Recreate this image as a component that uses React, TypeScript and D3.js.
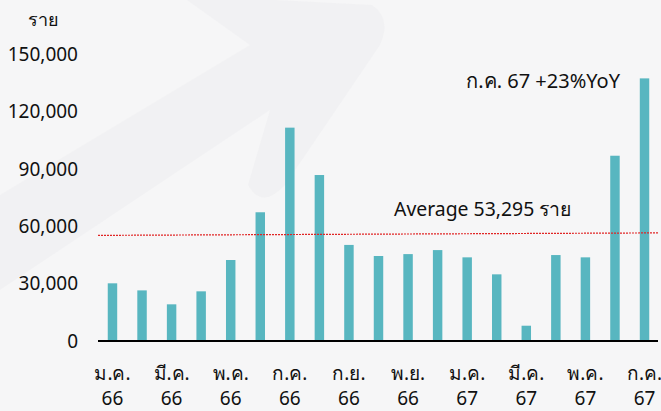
import * as d3 from "d3"
import { useEffect, useRef } from "react"

const BAR_COLOR = "#58b6c0"
const W = 661
const H = 411

// monthly counts (ราย), ม.ค. 66 – ก.ค. 67
const months = [
  "ม.ค. 66", "ก.พ. 66", "มี.ค. 66", "เม.ย. 66", "พ.ค. 66", "มิ.ย. 66", "ก.ค. 66",
  "ส.ค. 66", "ก.ย. 66", "ต.ค. 66", "พ.ย. 66", "ธ.ค. 66", "ม.ค. 67", "ก.พ. 67",
  "มี.ค. 67", "เม.ย. 67", "พ.ค. 67", "มิ.ย. 67", "ก.ค. 67",
]
const values = [
  30200, 26500, 19200, 26000, 42400, 67400, 111700, 86900, 50300, 44500,
  45500, 47600, 43800, 34900, 8000, 45000, 43800, 97000, 137500,
]
const yTicks = [0, 30000, 60000, 90000, 120000, 150000]
const averageLabel = "Average 53,295 ราย"
// the drawn average line rises slightly from left to right
const averageLine = [55300, 56600]
const annotation = "ก.ค. 67 +23%YoY"
const unitLabel = "ราย"

const FONT = "'Noto Sans', 'Open Sans', sans-serif"

export default function App() {
  const svgRef = useRef<SVGSVGElement | null>(null)

  useEffect(() => {
    if (!svgRef.current) return
    const svg = d3.select(svgRef.current)
    svg.selectAll("*").remove()

    // background with a faint arrow
    svg.append("rect").attr("width", W).attr("height", H).attr("fill", "#f6f6f7")
    svg
      .append("path")
      .attr("d", "M0,195 L250,45 L180,-5 L372,5 Q392,18 380,45 L285,185 Q262,210 248,185 L270,110 L0,290 Z")
      .attr("fill", "#ebebee")
      .attr("opacity", 0.4)

    const x = d3.scaleBand().domain(months).range([97.7, 659.3]).paddingInner(0.68).paddingOuter(0.34)
    const y = d3.scaleLinear().domain([0, 150000]).range([341, 54.5])

    // y tick labels
    svg
      .append("g")
      .selectAll("text")
      .data(yTicks)
      .enter()
      .append("text")
      .attr("x", 78)
      .attr("y", (d) => y(d))
      .attr("dy", "0.35em")
      .attr("text-anchor", "end")
      .style("font-family", FONT)
      .style("font-size", "19px")
      .style("fill", "#111")
      .text((d) => d3.format(",")(d))

    svg
      .append("text")
      .attr("x", 43)
      .attr("y", 20)
      .attr("dy", "0.35em")
      .attr("text-anchor", "middle")
      .style("font-family", FONT)
      .style("font-size", "18px")
      .style("fill", "#111")
      .text(unitLabel)

    // bars
    svg
      .append("g")
      .selectAll("rect")
      .data(values)
      .enter()
      .append("rect")
      .attr("x", (d, i) => x(months[i])!)
      .attr("width", x.bandwidth())
      .attr("y", (d) => y(d))
      .attr("height", (d) => y(0) - y(d))
      .attr("fill", BAR_COLOR)

    // axis line
    svg
      .append("line")
      .attr("x1", 98)
      .attr("x2", 658)
      .attr("y1", y(0))
      .attr("y2", y(0))
      .attr("stroke", "#000")
      .attr("stroke-width", 2)

    // x labels, every other month, two lines
    const labelled = months.filter((d, i) => i % 2 === 0)
    const xl = svg
      .append("g")
      .selectAll("text")
      .data(labelled)
      .enter()
      .append("text")
      .attr("text-anchor", "middle")
      .style("font-family", FONT)
      .style("font-size", "19px")
      .style("fill", "#111")
    xl.append("tspan")
      .attr("x", (d) => x(d)! + x.bandwidth() / 2)
      .attr("y", 380)
      .text((d) => d.split(" ")[0])
    xl.append("tspan")
      .attr("x", (d) => x(d)! + x.bandwidth() / 2)
      .attr("y", 405)
      .text((d) => d.split(" ")[1])

    // average line
    svg
      .append("line")
      .attr("x1", 98)
      .attr("x2", 658)
      .attr("y1", y(averageLine[0]))
      .attr("y2", y(averageLine[1]))
      .attr("stroke", "#e02525")
      .attr("stroke-width", 1.2)
      .attr("stroke-dasharray", "2,1")

    svg
      .append("text")
      .attr("x", 394)
      .attr("y", 209)
      .attr("dy", "0.35em")
      .style("font-family", FONT)
      .style("font-size", "19.4px")
      .style("fill", "#111")
      .text(averageLabel)

    svg
      .append("text")
      .attr("x", 620)
      .attr("y", 81)
      .attr("dy", "0.35em")
      .attr("text-anchor", "end")
      .style("font-family", FONT)
      .style("font-size", "20px")
      .style("fill", "#111")
      .text(annotation)
  }, [])

  return (
    <svg
      ref={svgRef}
      width={W}
      height={H}
      style={{ position: "fixed", left: 0, top: 0, display: "block" }}
      xmlns="http://www.w3.org/2000/svg"
    />
  )
}
